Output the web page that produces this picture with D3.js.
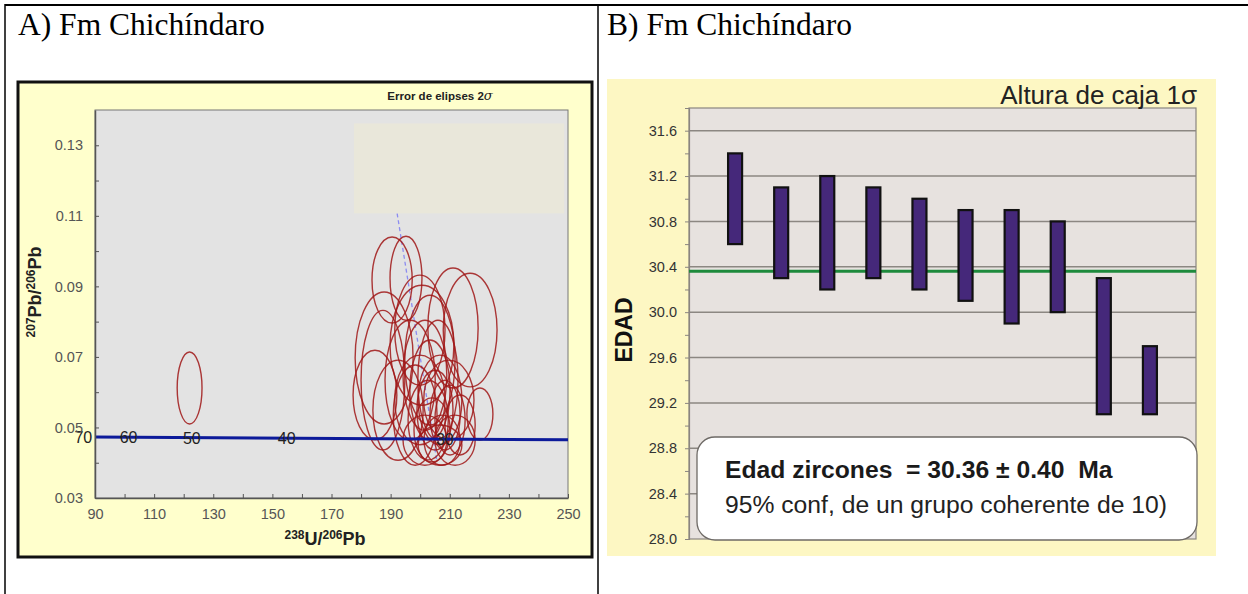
<!DOCTYPE html>
<html>
<head>
<meta charset="utf-8">
<script src="https://cdn.jsdelivr.net/npm/d3@7/dist/d3.min.js"></script>
<style>
  body { margin: 0; background: #fff; }
  svg { display: block; }
  .sans { font-family: "Liberation Sans", Arial, sans-serif; }
</style>
</head>
<body>
<svg width="1248" height="594"></svg>
<script>
// ---- panel A data: U-Pb ellipses (centre, 2 sigma half axes) ----
const ellU   = [190.5,195.2,211.1,216.9,187.8,187.4,200.6,201.6,203.3,199.9,205.0,206.7,202.7,208.4,204.0,
                206.0,198.3,196.6,210.1,207.4,201.6,213.5,220.2,206.7,184.7,211.8,209.7,192.5,203.3,199.9,122.0]
const ellPb  = [0.0918,0.0923,0.0782,0.0776,0.0697,0.0634,0.0733,0.0648,0.0606,0.0578,0.0549,0.0578,0.0521,0.0535,0.0493,
                0.0634,0.0535,0.0634,0.0521,0.0464,0.0464,0.0507,0.0538,0.0450,0.0592,0.0464,0.0578,0.0549,0.0691,0.0776,0.0612]
const ellSU  = [6.8,5.4,8.5,9.1,9.8,7.4,10.8,7.4,6.8,8.5,6.1,7.4,6.8,5.1,6.1,
                6.8,7.4,8.5,5.1,6.1,7.4,5.1,4.4,7.4,7.4,6.8,8.5,8.5,8.5,8.5,4.2]
const ellSPb = [0.0122,0.0119,0.0170,0.0161,0.0187,0.0198,0.0170,0.0156,0.0142,0.0127,0.0113,0.0127,0.0113,0.0099,0.0091,
                0.0170,0.0142,0.0170,0.0099,0.0071,0.0071,0.0085,0.0074,0.0057,0.0127,0.0071,0.0113,0.0142,0.0184,0.0156,0.0102]

// concordia (Tera-Wasserburg)
const concU    = [90, 250]
const concPb   = [0.0473, 0.0465]
const concAges = ["70", "60", "50", "40", "30"]
const concAgeU = [92.1, 107.4, 128.8, 160.9, 214.4]
const concAgePb= [0.0473, 0.0473, 0.0470, 0.0469, 0.0467]

// discordia (dashed)
const discU  = [192.2, 205.7]
const discPb = [0.1107, 0.0402]

const xTicksA = [90,110,130,150,170,190,210,230,250]
const yTicksA = [0.03,0.05,0.07,0.09,0.11,0.13]

// ---- panel B data: 1 sigma boxes ----
const boxLow  = [30.6,30.3,30.2,30.3,30.2,30.1,29.9,30.0,29.1,29.1]
const boxHigh = [31.4,31.1,31.2,31.1,31.0,30.9,30.9,30.8,30.3,29.7]
const meanAge = 30.36
const yTicksB = [28.0,28.4,28.8,29.2,29.6,30.0,30.4,30.8,31.2,31.6]

const svg = d3.select("svg")

// ---- table lines ----
svg.append("line").attr("x1",5).attr("x2",1248).attr("y1",5).attr("y2",5).attr("stroke","#000").attr("stroke-width",2)
svg.append("line").attr("x1",5).attr("x2",5).attr("y1",4).attr("y2",594).attr("stroke","#000").attr("stroke-width",1.5)
svg.append("line").attr("x1",598).attr("x2",598).attr("y1",4).attr("y2",594).attr("stroke","#000").attr("stroke-width",1.5)

svg.append("text").attr("x",18).attr("y",35)
  .style("font-family","'Liberation Serif','Times New Roman',serif").style("font-size","31.5px")
  .text("A) Fm Chichíndaro")
svg.append("text").attr("x",607).attr("y",35)
  .style("font-family","'Liberation Serif','Times New Roman',serif").style("font-size","31.5px")
  .text("B) Fm Chichíndaro")

// =================== panel A ===================
const a = svg.append("g").attr("class","sans")
a.append("rect").attr("x",18).attr("y",82).attr("width",574).attr("height",475)
  .attr("fill","#ffffcc").attr("stroke","#111").attr("stroke-width",3)

const xA = d3.scaleLinear().domain([90,250]).range([95,568])
const yA = d3.scaleLinear().domain([0.03,0.14]).range([498,110])

a.append("rect").attr("x",95).attr("y",110).attr("width",473).attr("height",388)
  .attr("fill","#e3e3e3").attr("stroke","#777").attr("stroke-width",1)

// dashed discordia
a.append("line")
  .attr("x1",xA(discU[0])).attr("y1",yA(discPb[0]))
  .attr("x2",xA(discU[1])).attr("y2",yA(discPb[1]))
  .attr("stroke","#8c8cf0").attr("stroke-width",1.3).attr("stroke-dasharray","4,3")

// beige legend box
a.append("rect").attr("x",xA(177.6)).attr("y",yA(0.1362)).attr("width",xA(248.7)-xA(177.6)).attr("height",yA(0.1107)-yA(0.1362))
  .attr("fill","#e9e7da")

// ellipses
const ells = ellU.map((u,i) => ({u:u, pb:ellPb[i], su:ellSU[i], spb:ellSPb[i]}))
a.append("g").selectAll("ellipse").data(ells).enter().append("ellipse")
  .attr("cx", d => xA(d.u)).attr("cy", d => yA(d.pb))
  .attr("rx", d => xA(d.u + d.su) - xA(d.u))
  .attr("ry", d => yA(d.pb) - yA(d.pb + d.spb))
  .attr("fill","none").attr("stroke","#a01818").attr("stroke-width",1.4).attr("stroke-opacity",0.85)

// concordia line
a.append("line")
  .attr("x1",xA(concU[0])).attr("y1",yA(concPb[0]))
  .attr("x2",xA(concU[1])).attr("y2",yA(concPb[1]))
  .attr("stroke","#0c1a9a").attr("stroke-width",3)

a.append("g").selectAll("text").data(concAges).enter().append("text")
  .attr("x",(d,i) => xA(concAgeU[i]) - 9)
  .attr("y",(d,i) => yA(concAgePb[i]) + 6)
  .attr("text-anchor","end")
  .style("font-size","16px").style("fill","#222")
  .text(d => d)

// axes
const axA = a.append("g").attr("transform","translate(0,498)")
  .call(d3.axisBottom(xA).tickValues(d3.range(90,251,10)).tickSizeInner(-4).tickSizeOuter(0).tickPadding(9)
    .tickFormat(d => xTicksA.includes(d) ? d : ""))
const ayA = a.append("g").attr("transform","translate(95,0)")
  .call(d3.axisLeft(yA).tickValues(d3.range(3,14).map(v => v/100)).tickSizeInner(-4).tickSizeOuter(0).tickPadding(12)
    .tickFormat(d => yTicksA.some(t => Math.abs(t-d) < 1e-6) ? d3.format(".2f")(d) : ""))
;[axA, ayA].forEach(g => {
  g.select(".domain").attr("stroke","#555").attr("stroke-width",1.5)
  g.selectAll(".tick line").attr("stroke","#555")
  g.selectAll(".tick text").style("font-size","14.5px").style("fill","#555").style("font-family","'Liberation Sans',Arial,sans-serif")
})
axA.selectAll(".tick text").attr("dy","0.85em")

// axis titles
const xt = a.append("text").attr("x",325).attr("y",545).attr("text-anchor","middle")
  .style("font-size","18px").style("font-weight","bold").style("fill","#222")
xt.append("tspan").style("font-size","12px").attr("dy","-6").text("238")
xt.append("tspan").attr("dy","6").text("U/")
xt.append("tspan").style("font-size","12px").attr("dy","-6").text("206")
xt.append("tspan").attr("dy","6").text("Pb")

const yt = a.append("text").attr("transform","translate(41,292) rotate(-90)").attr("text-anchor","middle")
  .style("font-size","18px").style("font-weight","bold").style("fill","#222")
yt.append("tspan").style("font-size","12px").attr("dy","-6").text("207")
yt.append("tspan").attr("dy","6").text("Pb/")
yt.append("tspan").style("font-size","12px").attr("dy","-6").text("206")
yt.append("tspan").attr("dy","6").text("Pb")

const et = a.append("text").attr("x",440).attr("y",100).attr("text-anchor","middle")
  .style("font-size","11.5px").style("font-weight","bold").style("fill","#222")
et.append("tspan").text("Error de elipses 2")
et.append("tspan").style("font-family","'DejaVu Serif',serif").style("font-style","italic").style("font-weight","normal").style("font-size","13px").text("σ")

// =================== panel B ===================
const b = svg.append("g").attr("class","sans")
b.append("rect").attr("x",607).attr("y",79).attr("width",609).attr("height",477).attr("fill","#fdf7c3")

const xB = d3.scaleLinear().domain([0,11]).range([689,1196])
const yB = d3.scaleLinear().domain([28.0,31.8]).range([539,108])

b.append("rect").attr("x",689).attr("y",108).attr("width",507).attr("height",431)
  .attr("fill","#e7e2df").attr("stroke","#8a8580").attr("stroke-width",1.2)

// gridlines
b.append("g").selectAll("line").data(yTicksB.slice(1)).enter().append("line")
  .attr("x1",689).attr("x2",1196).attr("y1",d => yB(d)).attr("y2",d => yB(d))
  .attr("stroke","#8c8782").attr("stroke-width",1.5)

const ayB = b.append("g").attr("transform","translate(689,0)")
  .call(d3.axisLeft(yB).tickValues(d3.range(0,19).map(i => 28 + i*0.2)).tickSize(4).tickPadding(8)
    .tickFormat(d => yTicksB.some(t => Math.abs(t-d) < 1e-6) ? d3.format(".1f")(d) : ""))
ayB.select(".domain").attr("stroke","#8a8580").attr("stroke-width",1.2)
ayB.selectAll(".tick line").attr("stroke","#8a8580").attr("stroke-width",1)
ayB.selectAll(".tick text").style("font-size","14.5px").style("fill","#333").style("font-family","'Liberation Sans',Arial,sans-serif")

// mean age line
b.append("line").attr("x1",689).attr("x2",1196).attr("y1",yB(meanAge)).attr("y2",yB(meanAge))
  .attr("stroke","#1e8a3c").attr("stroke-width",3)

// boxes
b.append("g").selectAll("rect").data(boxLow).enter().append("rect")
  .attr("x",(d,i) => xB(i+1) - 7)
  .attr("y",(d,i) => yB(boxHigh[i]))
  .attr("width",14)
  .attr("height",(d,i) => yB(d) - yB(boxHigh[i]))
  .attr("fill","#45287a").attr("stroke","#111").attr("stroke-width",2.2)

// annotation box
b.append("rect").attr("x",697).attr("y",437).attr("width",500).attr("height",103).attr("rx",18).attr("ry",18)
  .attr("fill","#fff").attr("stroke","#6e6a66").attr("stroke-width",1.3)
b.append("text").attr("x",725).attr("y",478)
  .style("font-size","24.7px").style("font-weight","bold").style("fill","#1a1a1a")
  .style("white-space","pre")
  .text("Edad zircones  = 30.36 ± 0.40  Ma")
b.append("text").attr("x",725).attr("y",513)
  .style("font-size","24.7px").style("fill","#222")
  .text("95% conf, de un grupo coherente de 10)")

b.append("text").attr("x",1197).attr("y",104).attr("text-anchor","end")
  .style("font-size","26px").style("fill","#222").text("Altura de caja 1σ")

b.append("text").attr("transform","translate(632,330) rotate(-90)").attr("text-anchor","middle")
  .style("font-size","23px").style("font-weight","bold").style("fill","#111").text("EDAD")
</script>
</body>
</html>
